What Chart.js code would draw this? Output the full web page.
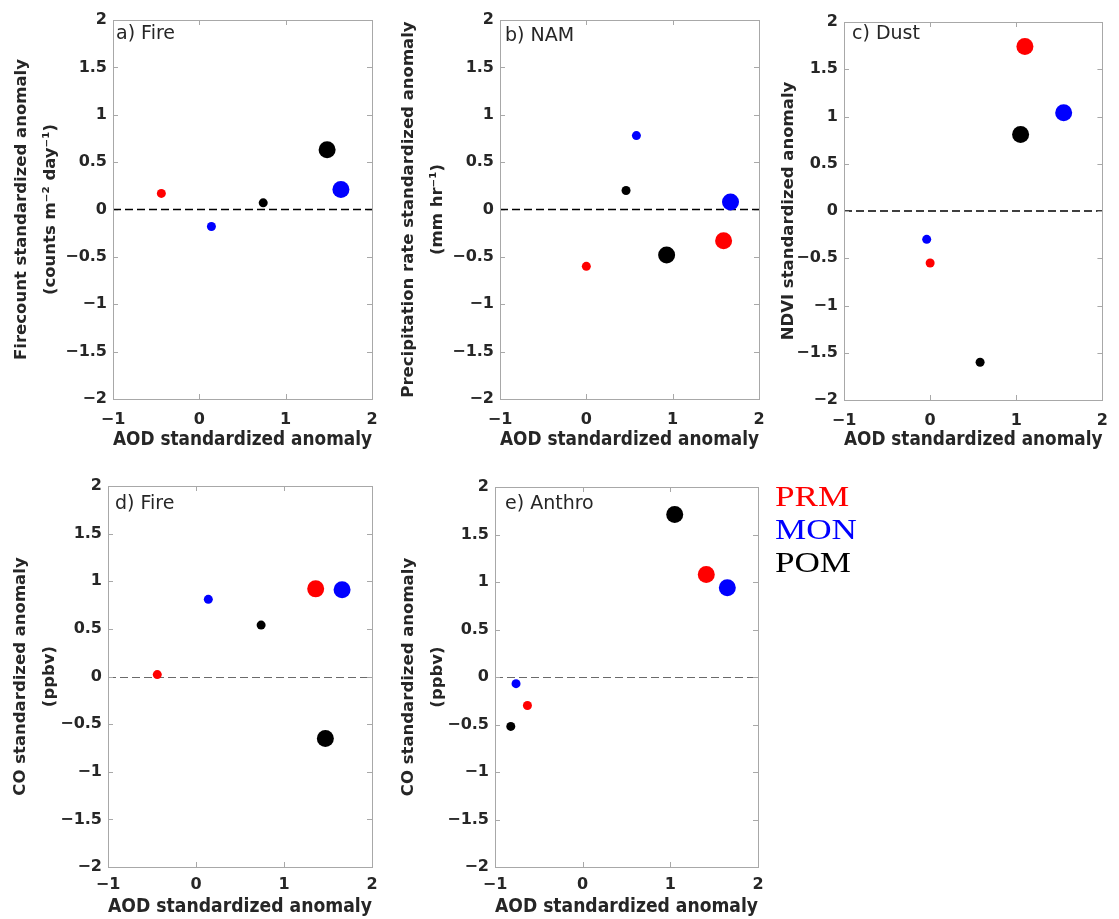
<!DOCTYPE html>
<html>
<head>
<meta charset="utf-8">
<script src="https://cdn.jsdelivr.net/npm/chart.js@4.4.1/dist/chart.umd.min.js"></script>
<style>
  html, body { margin: 0; padding: 0; background: #ffffff; }
  body { width: 1119px; height: 919px; position: relative; overflow: hidden; }
  canvas { position: absolute; }
</style>
</head>
<body>
<canvas id="pa"></canvas>
<canvas id="pb"></canvas>
<canvas id="pc"></canvas>
<canvas id="pd"></canvas>
<canvas id="pe"></canvas>
<script>
// ---- series (order of every array: PRM, MON, POM) ----
const seriesNames = ['PRM', 'MON', 'POM'];

// ---- tick values ----
const xTickValues = [-1, 0, 1, 2];
const yTickValues = [-2, -1.5, -1, -0.5, 0, 0.5, 1, 1.5, 2];

// ---- a) Fire : Firecount vs AOD ----
const aSmallX = [-0.44, 0.14, 0.74];
const aSmallY = [0.17, -0.18, 0.07];
const aLargeX = [null, 1.64, 1.48];
const aLargeY = [null, 0.21, 0.63];

// ---- b) NAM : Precipitation vs AOD ----
const bSmallX = [0.00, 0.58, 0.46];
const bSmallY = [-0.60, 0.78, 0.20];
const bLargeX = [1.59, 1.67, 0.93];
const bLargeY = [-0.33, 0.08, -0.48];

// ---- c) Dust : NDVI vs AOD ----
const cSmallX = [0.00, -0.04, 0.58];
const cSmallY = [-0.55, -0.30, -1.60];
const cLargeX = [1.10, 1.55, 1.05];
const cLargeY = [1.74, 1.04, 0.81];

// ---- d) Fire : CO vs AOD ----
const dSmallX = [-0.44, 0.14, 0.74];
const dSmallY = [0.02, 0.81, 0.54];
const dLargeX = [1.36, 1.66, 1.47];
const dLargeY = [0.92, 0.91, -0.65];

// ---- e) Anthro : CO vs AOD ----
const eSmallX = [-0.63, -0.76, -0.82];
const eSmallY = [-0.30, -0.07, -0.52];
const eLargeX = [1.41, 1.65, 1.05];
const eLargeY = [1.08, 0.94, 1.71];

// ---- text ----
const xAxisTitle = 'AOD standardized anomaly';
const panelLabels = ['a) Fire', 'b) NAM', 'c) Dust', 'd) Fire', 'e) Anthro'];
const yAxisTitles = [
  ['Firecount standardized anomaly', '(counts m\u207B\u00B2 day\u207B\u00B9)'],
  ['Precipitation rate standardized anomaly', '(mm hr\u207B\u00B9)'],
  'NDVI standardized anomaly',
  ['CO standardized anomaly', '(ppbv)'],
  ['CO standardized anomaly', '(ppbv)']
];

// ---- styling ----
const seriesColors = ['#ff0000', '#0000ff', '#000000'];
const TEXT = '#262626';
const BOX = '#a8a8a8';
const SMALL_R = 4.5, LARGE_R = 8.5;

function fmt(v) {
  const s = String(Math.abs(Number(v.toFixed(2))));
  return v < 0 ? '\u2212' + s : s;
}

function buildDatasets(sx, sy, lx, ly) {
  const ds = [];
  for (let i = 0; i < seriesNames.length; i++) {
    if (sx[i] !== null && sy[i] !== null) {
      ds.push({ label: seriesNames[i] + ' small', data: [{ x: sx[i], y: sy[i] }],
        backgroundColor: seriesColors[i], pointBackgroundColor: seriesColors[i],
        pointBorderWidth: 0, pointRadius: SMALL_R, pointHoverRadius: SMALL_R });
    }
  }
  for (let i = 0; i < seriesNames.length; i++) {
    if (lx[i] !== null && ly[i] !== null) {
      ds.push({ label: seriesNames[i] + ' large', data: [{ x: lx[i], y: ly[i] }],
        backgroundColor: seriesColors[i], pointBackgroundColor: seriesColors[i],
        pointBorderWidth: 0, pointRadius: LARGE_R, pointHoverRadius: LARGE_R });
    }
  }
  return ds;
}

const framePlugin = {
  id: 'frame',
  beforeDatasetsDraw(chart, args, opts) {
    const { ctx, chartArea: a } = chart;
    const ys = chart.scales.y;
    let y0 = ys.getPixelForValue(0);
    if (opts.zeroWidth === 1) y0 = Math.round(y0) + 0.5;
    ctx.save();
    ctx.strokeStyle = opts.zeroColor;
    ctx.lineWidth = opts.zeroWidth;
    ctx.setLineDash([8, 4]);
    ctx.beginPath();
    ctx.moveTo(a.left, y0);
    ctx.lineTo(a.right, y0);
    ctx.stroke();
    ctx.restore();
  },
  afterDraw(chart, args, opts) {
    const { ctx, chartArea: a } = chart;
    const xs = chart.scales.x, ys = chart.scales.y;
    ctx.save();
    ctx.strokeStyle = BOX;
    ctx.lineWidth = 1;
    ctx.setLineDash([]);
    ctx.strokeRect(Math.round(a.left) + 0.5, Math.round(a.top) + 0.5,
                   Math.round(a.right - a.left), Math.round(a.bottom - a.top));
    const L = 5;
    ctx.beginPath();
    xTickValues.forEach(v => {
      const px = Math.round(xs.getPixelForValue(v)) + 0.5;
      ctx.moveTo(px, a.bottom); ctx.lineTo(px, a.bottom - L);
      ctx.moveTo(px, a.top); ctx.lineTo(px, a.top + L);
    });
    yTickValues.forEach(v => {
      const py = Math.round(ys.getPixelForValue(v)) + 0.5;
      ctx.moveTo(a.left, py); ctx.lineTo(a.left + L, py);
      ctx.moveTo(a.right, py); ctx.lineTo(a.right - L, py);
    });
    ctx.stroke();
    // panel label
    ctx.fillStyle = TEXT;
    ctx.font = '19px "DejaVu Sans"';
    ctx.textAlign = 'left';
    ctx.textBaseline = 'middle';
    ctx.fillText(opts.label, a.left + opts.labelDx, a.top + opts.labelDy);
    // legend
    if (opts.legend) {
      ctx.font = '30px "Liberation Serif"';
      ctx.textBaseline = 'middle';
      seriesNames.forEach((n, i) => {
        ctx.save();
        ctx.translate(opts.legend.x, opts.legend.y + i * opts.legend.dy);
        ctx.scale(1.17, 1);
        ctx.fillStyle = seriesColors[i];
        ctx.fillText(n, 0, 0);
        ctx.restore();
      });
    }
    ctx.restore();
  }
};

function makePanel(p) {
  const cv = document.getElementById(p.id);
  cv.width = p.canvas.w; cv.height = p.canvas.h;
  cv.style.left = p.canvas.left + 'px'; cv.style.top = p.canvas.top + 'px';
  cv.style.width = p.canvas.w + 'px'; cv.style.height = p.canvas.h + 'px';
  const relLeft = p.area.left - p.canvas.left;
  const relTop = p.area.top - p.canvas.top;
  const relRight = p.canvas.left + p.canvas.w - p.area.right;
  const relBottom = p.area.bottom - p.canvas.top;
  const tickFont = { family: 'DejaVu Sans', size: 16, weight: 'bold' };
  return new Chart(cv, {
    type: 'scatter',
    data: { datasets: buildDatasets(p.sx, p.sy, p.lx, p.ly) },
    options: {
      responsive: false,
      animation: false,
      devicePixelRatio: 1,
      layout: { padding: { left: 0, top: relTop, right: relRight, bottom: 0 } },
      plugins: {
        legend: { display: false },
        tooltip: { enabled: false },
        frame: { label: p.label, labelDx: p.labelDx, labelDy: p.labelDy,
                 zeroColor: p.zeroColor, zeroWidth: p.zeroWidth, legend: p.legend || null }
      },
      scales: {
        x: {
          type: 'linear', min: -1, max: 2,
          afterBuildTicks: s => { s.ticks = xTickValues.map(v => ({ value: v })); },
          afterFit: s => { s.height = p.canvas.h - relBottom; },
          grid: { display: false, drawTicks: false },
          border: { display: false },
          ticks: { color: TEXT, font: tickFont, padding: p.xTickPad, maxRotation: 0, autoSkip: false,
                   callback: v => fmt(v) },
          title: { display: true, text: xAxisTitle, color: TEXT,
                   font: { family: 'DejaVu Sans', size: 19, weight: 'bold', lineHeight: 1.2 },
                   padding: { top: 0, bottom: p.xTitlePad } }
        },
        y: {
          type: 'linear', min: -2, max: 2,
          afterBuildTicks: s => { s.ticks = yTickValues.map(v => ({ value: v })); },
          afterFit: s => { s.width = relLeft; },
          grid: { display: false, drawTicks: false },
          border: { display: false },
          ticks: { color: TEXT, font: tickFont, padding: 6, autoSkip: false,
                   callback: v => fmt(v) },
          title: { display: true, text: p.yTitle, color: TEXT,
                   font: { family: 'DejaVu Sans', size: 16.5, weight: 'bold', lineHeight: 1.75 },
                   padding: { top: p.yTitlePad, bottom: 0 } }
        }
      }
    },
    plugins: [framePlugin]
  });
}

const panels = [
  { id: 'pa', label: panelLabels[0], yTitle: yAxisTitles[0], sx: aSmallX, sy: aSmallY, lx: aLargeX, ly: aLargeY,
    canvas: { left: 0, top: 0, w: 390, h: 460 }, area: { left: 113, top: 20, right: 372, bottom: 399 },
    yTitlePad: 7, xTickPad: 11, xTitlePad: 8.6, labelDx: 3, labelDy: 14.5, zeroColor: '#000000', zeroWidth: 1.5 },
  { id: 'pb', label: panelLabels[1], yTitle: yAxisTitles[1], sx: bSmallX, sy: bSmallY, lx: bLargeX, ly: bLargeY,
    canvas: { left: 390, top: 0, w: 390, h: 460 }, area: { left: 500, top: 20, right: 759, bottom: 399 },
    yTitlePad: 4, xTickPad: 11, xTitlePad: 8.6, labelDx: 5, labelDy: 16.5, zeroColor: '#000000', zeroWidth: 1.5 },
  { id: 'pc', label: panelLabels[2], yTitle: yAxisTitles[2], sx: cSmallX, sy: cSmallY, lx: cLargeX, ly: cLargeY,
    canvas: { left: 770, top: 0, w: 349, h: 460 }, area: { left: 844, top: 22, right: 1112, bottom: 400 },
    yTitlePad: 4.6, xTickPad: 11, xTitlePad: 8.6, labelDx: 8, labelDy: 12.5, zeroColor: '#000000', zeroWidth: 1.5 },
  { id: 'pd', label: panelLabels[3], yTitle: yAxisTitles[3], sx: dSmallX, sy: dSmallY, lx: dLargeX, ly: dLargeY,
    canvas: { left: 0, top: 440, w: 390, h: 479 }, area: { left: 108, top: 486, right: 372, bottom: 867 },
    yTitlePad: 6.6, xTickPad: 8, xTitlePad: 0.6, labelDx: 7, labelDy: 18.5, zeroColor: '#6a6a6a', zeroWidth: 1 },
  { id: 'pe', label: panelLabels[4], yTitle: yAxisTitles[4], sx: eSmallX, sy: eSmallY, lx: eLargeX, ly: eLargeY,
    canvas: { left: 390, top: 440, w: 480, h: 479 }, area: { left: 495, top: 487, right: 758, bottom: 867 },
    yTitlePad: 4.6, xTickPad: 8, xTitlePad: 0.6, labelDx: 10, labelDy: 17.5, zeroColor: '#6a6a6a', zeroWidth: 1,
    legend: { x: 385, y: 58, dy: 33 } }
];

panels.forEach(makePanel);
</script>
</body>
</html>
